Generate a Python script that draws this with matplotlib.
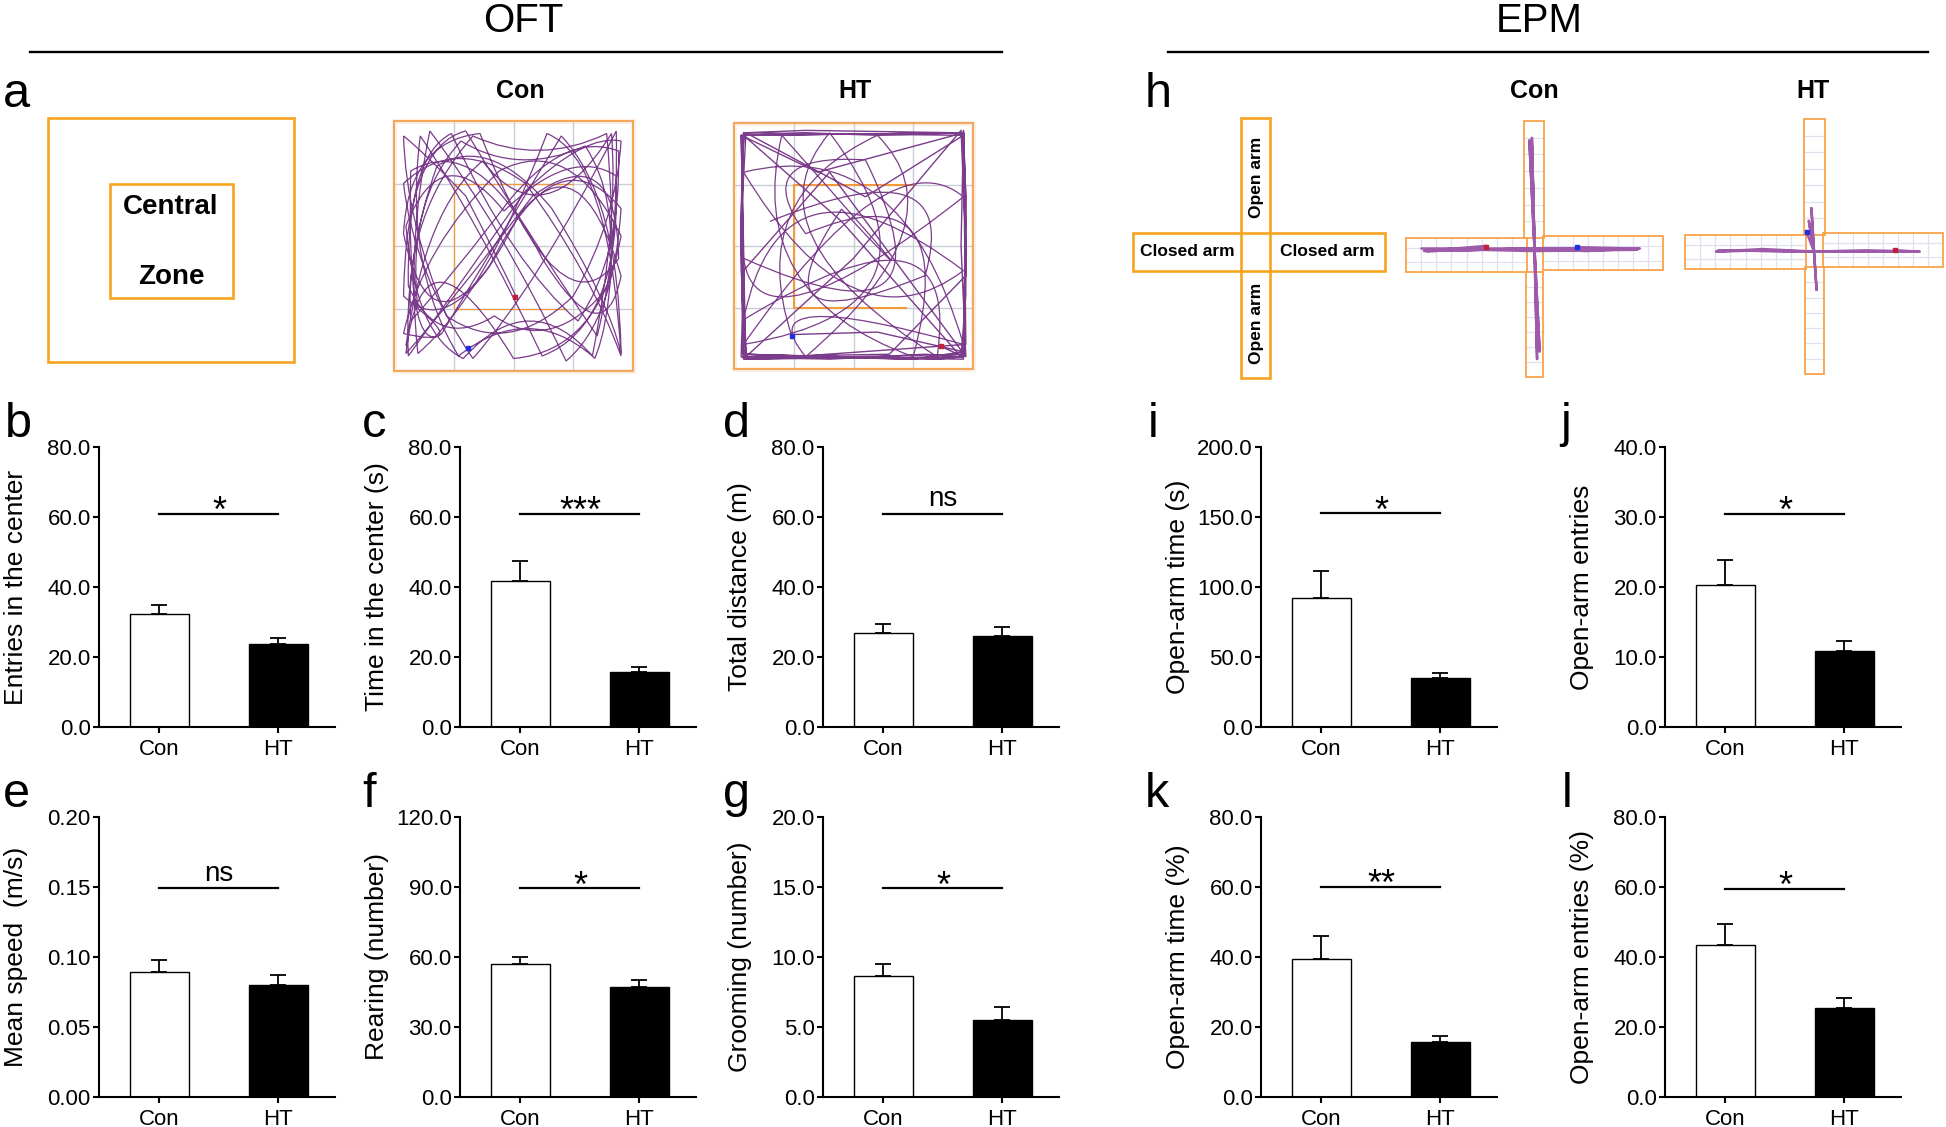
import matplotlib
matplotlib.use('Agg')
import matplotlib.pyplot as plt
from matplotlib.patches import Rectangle, PathPatch
from matplotlib.path import Path
from matplotlib.ticker import FormatStrFormatter
import numpy as np

plt.rcParams['font.family'] = ['Liberation Sans', 'DejaVu Sans']

# ---------------- data ----------------
groups = ['Con', 'HT']

entries_center = [32.2, 23.6]
entries_center_sem = [2.8, 1.9]
time_center = [41.7, 15.7]
time_center_sem = [5.6, 1.4]
total_distance = [26.8, 26.0]
total_distance_sem = [2.6, 2.7]
mean_speed = [0.089, 0.080]
mean_speed_sem = [0.009, 0.0075]
rearing = [56.8, 47.3]
rearing_sem = [3.0, 3.0]
grooming = [8.63, 5.52]
grooming_sem = [0.90, 0.88]
open_arm_time = [91.8, 34.8]
open_arm_time_sem = [19.4, 3.8]
open_arm_entries = [20.3, 10.8]
open_arm_entries_sem = [3.5, 1.5]
open_arm_time_pct = [39.3, 15.8]
open_arm_time_pct_sem = [6.8, 1.6]
open_arm_entries_pct = [43.5, 25.4]
open_arm_entries_pct_sem = [6.0, 2.8]

# OFT tracks (arena-normalised x, y measured from top)
oft_con_x = [
    0.51, 0.42, 0.30, 0.12, 0.04, 0.05, 0.22, 0.48, 0.75, 0.93, 0.95, 0.80, 0.55, 0.30, 0.06,
    0.04, 0.18, 0.40, 0.66, 0.90, 0.95, 0.94, 0.70, 0.45, 0.20, 0.05, 0.07, 0.35, 0.62, 0.88,
    0.95, 0.78, 0.52, 0.25, 0.04, 0.05, 0.30, 0.58, 0.85, 0.94, 0.93, 0.60, 0.33, 0.08, 0.04,
    0.26, 0.55, 0.82, 0.95, 0.90, 0.64, 0.38, 0.10, 0.05, 0.15, 0.45, 0.72, 0.92, 0.95, 0.68,
    0.40, 0.14, 0.04, 0.06, 0.36, 0.70, 0.94, 0.93, 0.58, 0.22, 0.05, 0.12, 0.50, 0.86, 0.95,
    0.74, 0.44, 0.12, 0.04, 0.31,
    0.10, 0.05, 0.28, 0.52, 0.80, 0.94, 0.90, 0.66, 0.42, 0.18, 0.06, 0.05, 0.24, 0.50, 0.77,
    0.95, 0.94, 0.72, 0.48, 0.26, 0.07, 0.04, 0.33, 0.61, 0.89, 0.95, 0.84, 0.57, 0.29, 0.09,
    0.05, 0.20, 0.46, 0.74, 0.93, 0.95, 0.62, 0.35, 0.11, 0.04, 0.27, 0.56, 0.83, 0.94, 0.91,
    0.63, 0.37, 0.13, 0.05]
oft_con_y = [
    0.70, 0.52, 0.30, 0.12, 0.06, 0.40, 0.78, 0.95, 0.70, 0.40, 0.08, 0.05, 0.28, 0.62, 0.94,
    0.55, 0.18, 0.05, 0.35, 0.72, 0.93, 0.30, 0.06, 0.45, 0.85, 0.96, 0.20, 0.04, 0.55, 0.95,
    0.62, 0.06, 0.38, 0.90, 0.70, 0.10, 0.04, 0.48, 0.86, 0.52, 0.04, 0.66, 0.95, 0.60, 0.25,
    0.05, 0.25, 0.60, 0.94, 0.15, 0.05, 0.70, 0.93, 0.50, 0.04, 0.42, 0.96, 0.80, 0.35, 0.04,
    0.58, 0.92, 0.45, 0.08, 0.05, 0.88, 0.55, 0.06, 0.30, 0.75, 0.93, 0.35, 0.95, 0.92, 0.46,
    0.05, 0.20, 0.50, 0.85, 0.91,
    0.75, 0.32, 0.08, 0.22, 0.10, 0.30, 0.66, 0.94, 0.78, 0.92, 0.66, 0.14, 0.05, 0.58, 0.80,
    0.55, 0.12, 0.04, 0.32, 0.60, 0.80, 0.38, 0.06, 0.18, 0.05, 0.70, 0.95, 0.65, 0.95, 0.86,
    0.42, 0.05, 0.36, 0.10, 0.22, 0.82, 0.94, 0.40, 0.06, 0.58, 0.94, 0.72, 0.94, 0.40, 0.05,
    0.48, 0.16, 0.35, 0.90]
# HT: wall-hugging laps and cross-arena runs
oft_ht_wall_x = [
    0.87, 0.96, 0.97, 0.96, 0.60, 0.30, 0.04, 0.03, 0.04, 0.40, 0.80, 0.96, 0.97, 0.95, 0.50,
    0.05, 0.03, 0.04, 0.30, 0.96, 0.97, 0.96, 0.70, 0.04, 0.03, 0.05, 0.55, 0.96, 0.97, 0.96,
    0.20, 0.04, 0.03, 0.04, 0.96, 0.97, 0.95, 0.45, 0.04, 0.03, 0.05, 0.85, 0.96, 0.97, 0.96,
    0.35, 0.03, 0.04, 0.05, 0.96, 0.97, 0.96, 0.04, 0.03, 0.04, 0.65, 0.97, 0.96, 0.97, 0.10,
    0.04, 0.03, 0.04, 0.96, 0.95, 0.97, 0.40, 0.04, 0.03, 0.05, 0.96, 0.97, 0.96, 0.03, 0.04,
    0.04, 0.75, 0.96, 0.60, 0.24]
oft_ht_wall_y = [
    0.91, 0.95, 0.40, 0.04, 0.05, 0.04, 0.05, 0.50, 0.95, 0.96, 0.94, 0.95, 0.50, 0.03, 0.55,
    0.95, 0.60, 0.04, 0.03, 0.04, 0.45, 0.95, 0.96, 0.94, 0.40, 0.04, 0.30, 0.05, 0.60, 0.96,
    0.95, 0.96, 0.50, 0.05, 0.04, 0.70, 0.95, 0.40, 0.05, 0.45, 0.94, 0.96, 0.95, 0.30, 0.04,
    0.20, 0.05, 0.55, 0.96, 0.95, 0.55, 0.05, 0.04, 0.35, 0.95, 0.94, 0.62, 0.03, 0.90, 0.96,
    0.95, 0.40, 0.05, 0.04, 0.50, 0.95, 0.20, 0.60, 0.95, 0.96, 0.94, 0.30, 0.04, 0.05, 0.50,
    0.94, 0.96, 0.93, 0.85, 0.86]
oft_ht_cross_x = [0.24, 0.05, 0.60, 0.96, 0.30, 0.04, 0.96, 0.70, 0.04, 0.50, 0.96, 0.20, 0.04,
                  0.96, 0.85, 0.04, 0.40, 0.96, 0.04, 0.65, 0.96, 0.10, 0.04, 0.96, 0.55,
                  0.05, 0.30, 0.96, 0.75, 0.04, 0.20, 0.96, 0.45, 0.05, 0.80, 0.96, 0.15]
oft_ht_cross_y = [0.86, 0.30, 0.05, 0.40, 0.95, 0.65, 0.90, 0.04, 0.20, 0.94, 0.60, 0.04, 0.80,
                  0.25, 0.95, 0.45, 0.04, 0.75, 0.90, 0.05, 0.30, 0.96, 0.55, 0.95, 0.15,
                  0.12, 0.45, 0.18, 0.95, 0.70, 0.05, 0.88, 0.35, 0.92, 0.62, 0.08, 0.40]
oft_con_start = (0.507, 0.704)
oft_con_end = (0.311, 0.908)
oft_ht_start = (0.866, 0.907)
oft_ht_end = (0.242, 0.864)

# EPM tracks (normalised within maze bounding box, y from top)
epm_con_x = [0.31, 0.07, 0.30, 0.50, 0.70, 0.91, 0.70, 0.50, 0.49, 0.50, 0.51, 0.50, 0.49,
             0.50, 0.06, 0.50, 0.90, 0.50, 0.52, 0.50, 0.48, 0.50, 0.08, 0.50, 0.89, 0.67]
epm_con_y = [0.49, 0.51, 0.505, 0.50, 0.505, 0.50, 0.51, 0.50, 0.07, 0.50, 0.93, 0.50, 0.10,
             0.50, 0.50, 0.51, 0.505, 0.50, 0.90, 0.50, 0.08, 0.50, 0.51, 0.50, 0.50, 0.495]
epm_ht_x = [0.81, 0.91, 0.70, 0.50, 0.30, 0.12, 0.30, 0.50, 0.49, 0.50, 0.51, 0.50, 0.13,
            0.50, 0.90, 0.50, 0.48, 0.50, 0.47]
epm_ht_y = [0.515, 0.52, 0.515, 0.52, 0.515, 0.52, 0.51, 0.52, 0.35, 0.52, 0.67, 0.52, 0.515,
            0.52, 0.52, 0.52, 0.40, 0.52, 0.44]
epm_con_start = (0.311, 0.494)
epm_con_end = (0.665, 0.494)
epm_ht_start = (0.814, 0.514)
epm_ht_end = (0.473, 0.443)

# ---------------- figure ----------------
W, H = 1946, 1127
fig = plt.figure(figsize=(W / 100, H / 100), dpi=100)

ORANGE = '#F7A520'
TRACK = '#7B3C8B'
TRACK2 = '#9E5BAA'

ov = fig.add_axes([0, 0, 1, 1])
ov.set_xlim(0, W)
ov.set_ylim(H, 0)
ov.axis('off')

# headers
ov.text(523, 32, 'OFT', fontsize=29, ha='center', va='baseline')
ov.text(1539, 32, 'EPM', fontsize=29, ha='center', va='baseline')
ov.plot([30, 1002], [52, 52], color='black', lw=1.7)
ov.plot([1168, 1928], [52, 52], color='black', lw=1.7)
for t, x in [('Con', 520), ('HT', 855), ('Con', 1534), ('HT', 1813)]:
    ov.text(x, 98, t, fontsize=18, fontweight='bold', ha='center', va='baseline')

# panel letters
letters = [('a', 3, 107), ('h', 1145, 107),
           ('b', 5, 437), ('c', 362, 437), ('d', 723, 437), ('i', 1148, 437), ('j', 1560, 437),
           ('e', 3, 807), ('f', 362, 807), ('g', 723, 807), ('k', 1145, 807), ('l', 1562, 807)]
for t, x, y in letters:
    ov.text(x, y, t, fontsize=35, ha='left', va='baseline')

# schematic a
ov.add_patch(Rectangle((48, 118), 246, 244, fill=False, edgecolor=ORANGE, lw=1.9))
ov.add_patch(Rectangle((110, 184), 123, 114, fill=False, edgecolor=ORANGE, lw=1.9))
ov.text(171, 207, 'Central', fontsize=20, fontweight='bold', ha='center', va='center')
ov.text(171, 277, 'Zone', fontsize=20, fontweight='bold', ha='center', va='center')

# schematic h
ov.add_patch(Rectangle((1133, 233), 252, 38, fill=False, edgecolor=ORANGE, lw=1.9))
ov.add_patch(Rectangle((1241, 118), 29, 260, fill=False, edgecolor=ORANGE, lw=1.9))
ov.text(1256, 177, 'Open arm', fontsize=12.5, fontweight='bold', rotation=90, ha='center', va='center')
ov.text(1256, 323, 'Open arm', fontsize=12.5, fontweight='bold', rotation=90, ha='center', va='center')
ov.text(1187, 252, 'Closed arm', fontsize=12.5, fontweight='bold', ha='center', va='center')
ov.text(1327, 252, 'Closed arm', fontsize=12.5, fontweight='bold', ha='center', va='center')


def px_axes(x0, y0, x1, y1):
    ax = fig.add_axes([x0 / W, 1 - y1 / H, (x1 - x0) / W, (y1 - y0) / H])
    ax.set_xlim(0, 1)
    ax.set_ylim(1, 0)
    ax.axis('off')
    return ax


def smooth_track(ax, xs, ys, color, lw):
    verts = list(zip(xs, ys))
    n = len(verts)
    codes = [Path.MOVETO] + [Path.CURVE3] * (n - 1)
    if (n - 1) % 2 == 1:
        codes[-1] = Path.LINETO
    ax.add_patch(PathPatch(Path(verts, codes), fill=False, edgecolor=color, lw=lw, zorder=4))


def oft_arena(x0, y0, x1, y1, zone_lw):
    ax = px_axes(x0, y0, x1, y1)
    for q in (0.25, 0.5, 0.75):
        ax.plot([q, q], [0, 1], color='#C8CDD5', lw=1.0, zorder=1)
        ax.plot([0, 1], [q, q], color='#C8CDD5', lw=1.0, zorder=1)
    ax.plot([0.75, 0.25, 0.25, 0.72], [0.25, 0.25, 0.75, 0.75], color='#F39A3A', lw=zone_lw, zorder=2)
    ax.add_patch(Rectangle((0, 0), 1, 1, fill=False, edgecolor='#FDEEE2', lw=3.5, zorder=0, clip_on=False))
    ax.add_patch(Rectangle((0, 0), 1, 1, fill=False, edgecolor='#F3A04E', lw=1.3, zorder=3, clip_on=False))
    return ax


ax_con = oft_arena(394, 121, 633, 371, 0.9)
smooth_track(ax_con, oft_con_x, oft_con_y, TRACK, 0.9)
ax_con.plot(*oft_con_start, 's', color='#C0203A', ms=3, zorder=5)
ax_con.plot(*oft_con_end, 's', color='#2030E0', ms=3, zorder=5)

ax_ht = oft_arena(734, 123, 973, 369, 1.5)
ax_ht.plot(oft_ht_wall_x, oft_ht_wall_y, color=TRACK, lw=1.0, zorder=4)
smooth_track(ax_ht, oft_ht_cross_x, oft_ht_cross_y, TRACK, 0.9)
ax_ht.plot(*oft_ht_start, 's', color='#C0203A', ms=3, zorder=5)
ax_ht.plot(*oft_ht_end, 's', color='#2030E0', ms=3, zorder=5)


def epm_maze(x0, y0, x1, y1, arms, tx, ty, start, end):
    ax = px_axes(x0, y0, x1, y1)
    for (ax0, ax1, ay0, ay1, orient) in arms:
        if orient == 'h':
            for gx in np.linspace(ax0, ax1, 9)[1:-1]:
                ax.plot([gx, gx], [ay0, ay1], color='#DDE2EC', lw=0.9, zorder=1)
            for f in (0.3, 0.72):
                gy = ay0 + f * (ay1 - ay0)
                ax.plot([ax0, ax1], [gy, gy], color='#DDE2EC', lw=0.9, zorder=1)
        else:
            for gy in np.linspace(ay0, ay1, 8)[1:-1]:
                ax.plot([ax0, ax1], [gy, gy], color='#DDE2EC', lw=0.9, zorder=1)
        ax.add_patch(Rectangle((ax0, ay0), ax1 - ax0, ay1 - ay0, fill=False,
                               edgecolor='#F7A34A', lw=1.3, zorder=2, clip_on=False))
    ax.plot(tx, ty, color=TRACK2, lw=1.8, zorder=4)
    ax.plot(*start, 's', color='#C0203A', ms=3, zorder=5)
    ax.plot(*end, 's', color='#2030E0', ms=3, zorder=5)


con_arms = [(0.459, 0.537, 0.004, 0.459, 'v'), (0.467, 0.533, 0.591, 1.0, 'v'),
            (0.0, 0.471, 0.459, 0.591, 'h'), (0.533, 1.0, 0.451, 0.584, 'h')]
ht_arms = [(0.461, 0.543, 0.0, 0.455, 'v'), (0.465, 0.539, 0.580, 1.0, 'v'),
           (0.0, 0.469, 0.455, 0.588, 'h'), (0.535, 1.0, 0.447, 0.580, 'h')]
epm_maze(1406, 120, 1663, 377, con_arms, epm_con_x, epm_con_y, epm_con_start, epm_con_end)
epm_maze(1685, 119, 1943, 374, ht_arms, epm_ht_x, epm_ht_y, epm_ht_start, epm_ht_end)

# ---------------- bar panels ----------------
AX_W = 236
ROW_TOP = {2: 447, 3: 817}
ROW_H = 280


def bar_panel(left, row, mean, sem, ymax, ystep, ylabel, sig, sig_y, fmt='%.1f'):
    top = ROW_TOP[row]
    ax = fig.add_axes([left / W, 1 - (top + ROW_H) / H, AX_W / W, ROW_H / H])
    ax.patch.set_alpha(0)
    x = np.arange(len(groups))
    ax.bar(x, mean, width=0.49, color=['white', 'black'], edgecolor='black', linewidth=1.0, zorder=2)
    ax.errorbar(x, mean, yerr=[[0, 0], sem], fmt='none', ecolor='black', elinewidth=1.3,
                capsize=5.5, capthick=1.3, zorder=3)
    ax.set_xlim(-0.508, 1.475)
    ax.set_ylim(0, ymax)
    ax.set_yticks(np.arange(0, ymax + ystep / 2, ystep))
    ax.yaxis.set_major_formatter(FormatStrFormatter(fmt))
    ax.set_xticks(x)
    ax.set_xticklabels(groups)
    for s in ('top', 'right'):
        ax.spines[s].set_visible(False)
    for s in ('left', 'bottom'):
        ax.spines[s].set_linewidth(1.5)
    ax.tick_params(length=4.5, width=1.5, labelsize=16, pad=1.5)
    ax.tick_params(axis='x', pad=4.0)
    ax.set_ylabel(ylabel, fontsize=19)
    ax.yaxis.set_label_coords(-0.30, 0.5)
    ax.plot([0, 1], [sig_y, sig_y], color='black', lw=1.6, clip_on=False)
    if sig == 'ns':
        ax.annotate(sig, xy=(0.5, sig_y), xytext=(0, 5.5), textcoords='offset points',
                    ha='center', va='baseline', fontsize=20)
    else:
        ax.annotate(sig, xy=(0.5, sig_y), xytext=(0, -6), textcoords='offset points',
                    ha='center', va='baseline', fontsize=26)
    return ax


COLS = [99, 460, 823, 1261, 1665]
bar_panel(COLS[0], 2, entries_center, entries_center_sem, 80, 20, 'Entries in the center', '*', 61)
bar_panel(COLS[1], 2, time_center, time_center_sem, 80, 20, 'Time in the center (s)', '***', 61)
bar_panel(COLS[2], 2, total_distance, total_distance_sem, 80, 20, 'Total distance (m)', 'ns', 61)
bar_panel(COLS[3], 2, open_arm_time, open_arm_time_sem, 200, 50, 'Open-arm time (s)', '*', 152.7)
bar_panel(COLS[4], 2, open_arm_entries, open_arm_entries_sem, 40, 10, 'Open-arm entries', '*', 30.5)
bar_panel(COLS[0], 3, mean_speed, mean_speed_sem, 0.20, 0.05, 'Mean speed  (m/s)', 'ns', 0.149, fmt='%.2f')
bar_panel(COLS[1], 3, rearing, rearing_sem, 120, 30, 'Rearing (number)', '*', 89.5)
bar_panel(COLS[2], 3, grooming, grooming_sem, 20, 5, 'Grooming (number)', '*', 14.9)
bar_panel(COLS[3], 3, open_arm_time_pct, open_arm_time_pct_sem, 80, 20, 'Open-arm time (%)', '**', 60)
bar_panel(COLS[4], 3, open_arm_entries_pct, open_arm_entries_pct_sem, 80, 20, 'Open-arm entries (%)', '*', 59.5)

fig.savefig('out.png', dpi=100)
